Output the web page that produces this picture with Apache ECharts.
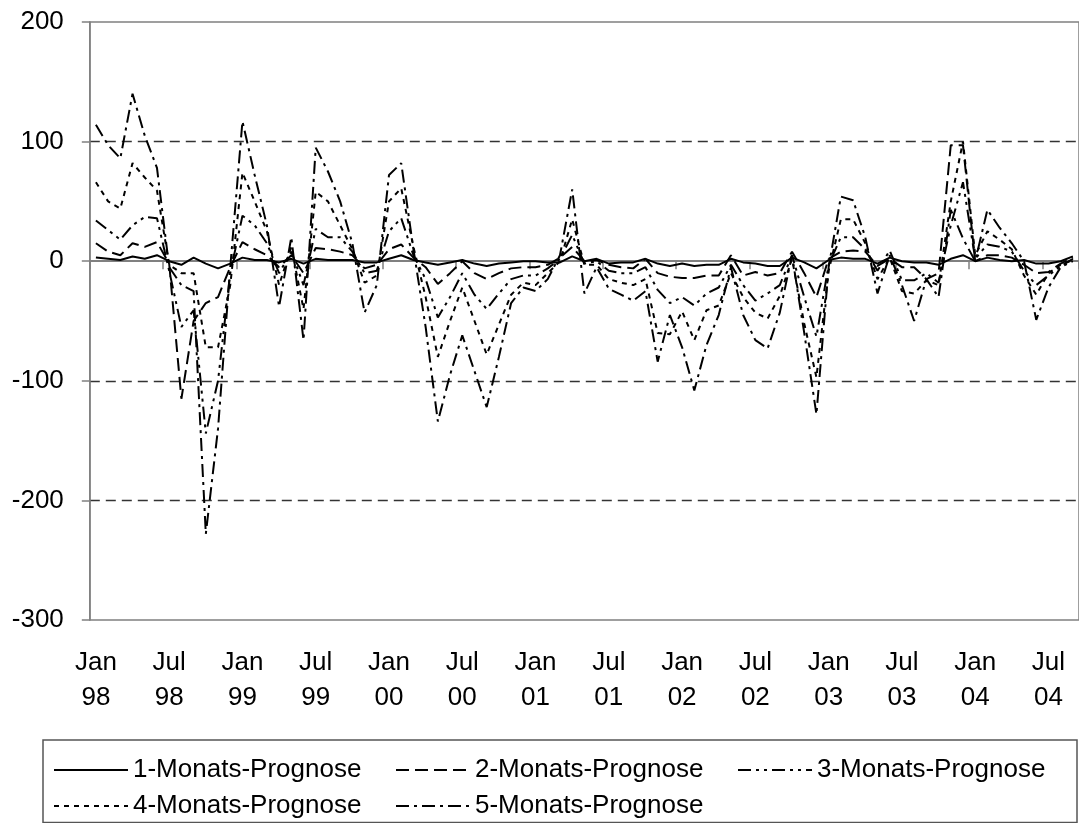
<!DOCTYPE html>
<html>
<head>
<meta charset="utf-8">
<script src="https://cdn.jsdelivr.net/npm/echarts@6/dist/echarts.min.js"></script>
<style>
html,body{margin:0;padding:0;background:#fff;}
#c{width:1079px;height:823px;}
</style>
</head>
<body>
<div id="c"></div>
<script>
const monthNames = ['Jan','Feb','Mar','Apr','Mai','Jun','Jul','Aug','Sep','Okt','Nov','Dez'];
const yearLabels = ['98','99','00','01','02','03','04'];
const monthCount = 81;

const seriesNames = ['1-Monats-Prognose','2-Monats-Prognose','3-Monats-Prognose','4-Monats-Prognose','5-Monats-Prognose'];

const prognose1 = [3,2,1,4,2,5,0,-3,3,-2,-6,-2,3,1,1,-1,2,-2,2,1,1,1,-1,-1,2,5,1,-1,-3,-1,1,-2,-4,-2,-1,0,0,-1,-1,4,0,2,-2,-1,-1,2,-2,-4,-2,-4,-3,-3,2,-1,-2,-4,-4,3,-1,-6,1,3,2,2,-2,3,0,-1,-1,-3,2,5,0,3,1,0,1,-2,-2,0,4];
const prognose2 = [15,8,5,15,12,16,-2,-115,-50,-35,-30,-5,16,10,5,-5,5,-10,11,10,8,5,-6,-3,10,14,3,-5,-19,-10,0,-10,-15,-10,-6,-5,-5,-3,3,12,0,1,-3,-5,-6,2,-10,-13,-14,-14,-12,-12,5,-12,-9,-12,-10,8,-10,-30,2,8,9,8,-4,2,-5,-5,-15,-10,97,97,0,5,5,3,-3,-10,-9,-2,3];
const prognose3 = [34,26,18,30,37,36,-8,-55,-41,-144,-100,-10,38,30,15,-10,8,-20,27,20,20,8,-10,-8,25,36,5,-15,-47,-30,-10,-28,-40,-27,-15,-12,-12,-6,2,22,-2,0,-8,-10,-10,-5,-24,-35,-30,-37,-27,-22,-3,-20,-33,-27,-20,5,-30,-63,-3,20,20,10,-8,9,-16,-16,-10,-18,30,66,2,14,12,8,-8,-20,-12,-4,2];
const prognose4 = [66,50,44,82,70,59,-3,-10,-10,-72,-72,-20,74,50,25,-20,12,-40,58,50,30,10,-18,-12,50,61,12,-30,-80,-50,-22,-50,-78,-53,-28,-18,-20,-10,0,35,-3,-3,-15,-18,-20,-15,-60,-61,-42,-66,-41,-37,-10,-30,-43,-48,-29,2,-52,-97,-8,35,35,15,-15,3,-25,-27,-16,-20,50,100,5,25,18,10,-12,-28,-10,-3,1];
const prognose5 = [114,97,86,140,105,78,-5,-20,-25,-228,-140,-5,117,72,30,-38,20,-66,95,75,50,15,-43,-20,72,82,10,-55,-134,-95,-62,-92,-122,-80,-35,-22,-25,-15,5,60,-27,-5,-23,-28,-33,-25,-84,-45,-72,-108,-70,-45,-5,-45,-66,-73,-43,5,-60,-128,-5,54,51,20,-27,5,-20,-50,-15,-30,43,19,0,43,28,15,0,-49,-22,-5,0];

const yTicks = {min:-300, max:200, step:100};

const categories = [];
for (let y = 0; y < yearLabels.length; y++) {
  for (let m = 0; m < 12; m++) {
    if (categories.length < monthCount) categories.push(monthNames[m] + '\n' + yearLabels[y]);
  }
}

const FONT = 'Liberation Sans, Arial, sans-serif';
const dashStyles = ['solid', [13,6], [13,5,3,5,3,5], [5,5], [13,5,3,5]];
const allData = [prognose1, prognose2, prognose3, prognose4, prognose5];

const series = seriesNames.map((name, k) => ({
  name: name,
  type: 'line',
  xAxisIndex: 0,
  yAxisIndex: 0,
  data: allData[k],
  symbol: 'none',
  showSymbol: false,
  smooth: false,
  lineStyle: {color: '#000', width: 2, type: dashStyles[k]},
  itemStyle: {color: '#000'},
  z: 10 - k
}));

const legendPos = [
  {left: 53, top: 755},
  {left: 395, top: 755},
  {left: 737, top: 755},
  {left: 53, top: 791},
  {left: 395, top: 791}
];
const legends = seriesNames.map((name, k) => ({
  show: true,
  data: [name],
  left: legendPos[k].left,
  top: legendPos[k].top,
  orient: 'horizontal',
  padding: 0,
  itemWidth: 74,
  itemHeight: 14,
  selectedMode: false,
  itemStyle: {opacity: 0, borderWidth: 0},
  lineStyle: {width: 2},
  textStyle: {fontFamily: FONT, fontSize: 26, color: '#000', lineHeight: 30}
}));

const chart = echarts.init(document.getElementById('c'), null, {renderer: 'canvas'});
chart.setOption({
  animation: false,
  backgroundColor: '#fff',
  grid: {
    left: 89.8, top: 22, width: 992.25, height: 598,
    show: true, borderColor: '#808080', borderWidth: 1.5, backgroundColor: 'transparent',
    containLabel: false
  },
  legend: legends,
  xAxis: [
    {
      type: 'category', data: categories, position: 'bottom', boundaryGap: true,
      axisLine: {show: false, onZero: false},
      axisTick: {show: false},
      axisLabel: {interval: 5, margin: 25, lineHeight: 35, fontFamily: FONT, fontSize: 26, color: '#000'},
      splitLine: {show: false}
    },
    {
      type: 'category', data: categories, position: 'top', boundaryGap: true,
      axisLine: {show: true, onZero: true, lineStyle: {color: '#808080', width: 2}},
      axisTick: {show: true, inside: true, interval: 5, length: 8, lineStyle: {color: '#808080', width: 1.5}},
      axisLabel: {show: false},
      splitLine: {show: false}
    }
  ],
  yAxis: {
    type: 'value', min: yTicks.min, max: yTicks.max, interval: yTicks.step,
    axisLine: {show: true, lineStyle: {color: '#808080', width: 1.5}},
    axisTick: {show: true, length: 8, lineStyle: {color: '#808080', width: 1.5}},
    axisLabel: {margin: 26, fontFamily: FONT, fontSize: 26, color: '#000'},
    splitLine: {show: true, lineStyle: {
      color: ['rgba(0,0,0,0)', '#333', '#333', 'rgba(0,0,0,0)', '#333', 'rgba(0,0,0,0)'],
      type: [10, 6], width: 1.3
    }}
  },
  graphic: [{
    type: 'rect', silent: true, z: 100,
    shape: {x: 43, y: 740, width: 1034, height: 82.5},
    style: {fill: 'none', stroke: '#555', lineWidth: 1.5}
  }],
  series: series
});
</script>
</body>
</html>
